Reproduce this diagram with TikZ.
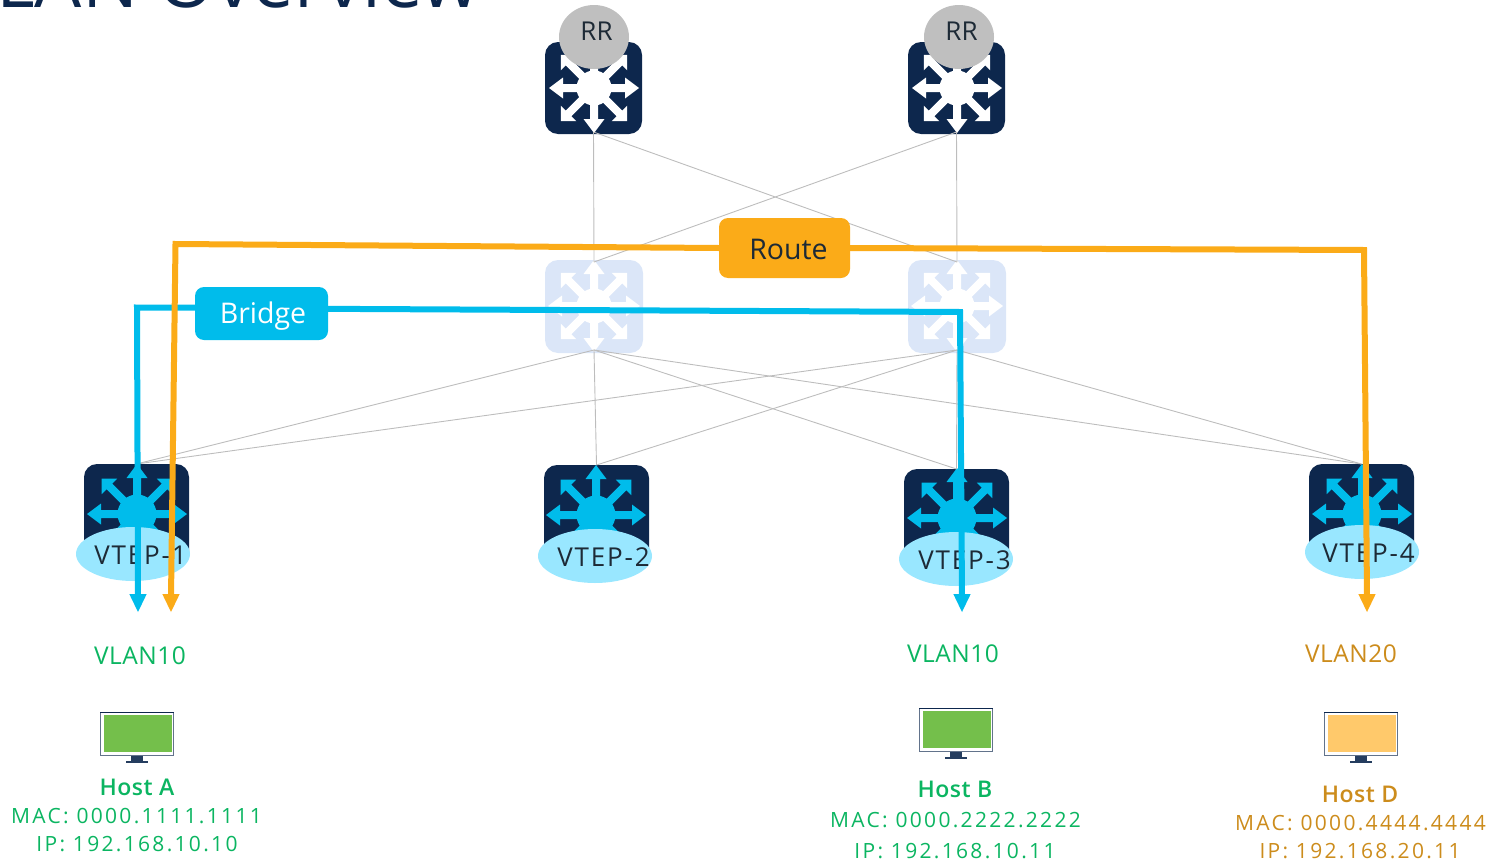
\documentclass[tikz,border=0pt]{standalone}
\usepackage{fontspec}
\usetikzlibrary{shapes.geometric,calc}
\setmainfont{Open Sans}
\newfontfamily\spaced[LetterSpace=11]{Open Sans}
\newfontfamily\slight[LetterSpace=2]{Open Sans}
\newfontfamily\vtepf[LetterSpace=7]{Open Sans}
\newfontfamily\boldf[LetterSpace=2]{Open Sans Semibold}
\definecolor{navy}{HTML}{0D274D}
\definecolor{sky}{HTML}{00BCEB}
\definecolor{amber}{HTML}{FBAB18}
\definecolor{oval}{HTML}{99E7FF}
\definecolor{pale}{HTML}{DBE6F8}
\definecolor{hgreen}{HTML}{0BB561}
\definecolor{hgold}{HTML}{CC8C1C}
\definecolor{wire}{HTML}{BDBDBD}
\definecolor{inkd}{HTML}{1D2A36}
\definecolor{scrg}{HTML}{74BF4B}
\definecolor{scry}{HTML}{FFC96B}
\tikzset{
 boxn/.style={rounded corners=13pt,minimum width=#1,inner sep=0pt,outer sep=0pt},
 wireline/.style={draw=wire,line width=0.9pt},
 flow/.style={line width=6pt,line join=miter},
 ovaln/.style={ellipse,fill=oval,minimum width=114pt,minimum height=54pt,inner sep=0pt},
 rrn/.style={ellipse,fill=black!25,minimum width=70pt,minimum height=64pt,inner sep=0pt},
 vtxt/.style={font=\vtepf\fontsize{26}{26}\selectfont,text=inkd,inner sep=0pt},
 rrtxt/.style={font=\fontsize{26}{26}\selectfont,text=inkd,inner sep=0pt},
 tagn/.style={rounded corners=9pt,minimum width=#1,inner sep=0pt,font=\fontsize{28.5}{28.5}\selectfont},
 vlan/.style={font=\slight\fontsize{24.5}{24.5}\selectfont,inner sep=0pt},
 hostt/.style={font=\spaced\fontsize{21}{21}\selectfont,inner sep=0pt},
 hostb/.style={font=\boldf\fontsize{23}{23}\selectfont,inner sep=0pt},
}
% #1 centre, #2 reach straight, #3 reach diagonal, #4 hub radius, #5 colour
\newcommand\spokes[5]{%
 \begin{scope}[shift={(#1)}]
  \fill[#5] (0,0) circle[radius=#4];
  \foreach \a in {0,90,180,270}{
   \begin{scope}[rotate=\a]
    \fill[#5] (0,-4) -- (#2-14,-4) -- (#2-14,-10.5) -- (#2,0) -- (#2-14,10.5) -- (#2-14,4) -- (0,4) -- cycle;
   \end{scope}}
  \foreach \a in {45,135,225,315}{
   \begin{scope}[rotate=\a]
    \fill[#5] (0,-4) -- (#3-11,-4) -- (#3-11,-11) -- (#3,0) -- (#3-11,11) -- (#3-11,4) -- (0,4) -- cycle;
   \end{scope}}
 \end{scope}}
\newcommand\monitor[3]{%
 \begin{scope}[shift={(#1)}]
  \node[inner sep=0pt,minimum width=74pt,minimum height=44pt,fill=white] (#3) at (37,22) {};
  \draw[line width=1.2pt,draw=navy!65] (0.6,0.6) rectangle (73.4,43.4);
  \draw[line width=1.2pt,draw=navy] (0,0.6) -- (74,0.6);
  \fill[#2] (4,3) rectangle (72,40);
  \fill[navy!90] (31,44) rectangle (43,48.5);
  \fill[navy!90] (26,48.5) rectangle (48,51);
 \end{scope}}
\begin{document}
\begin{tikzpicture}[x=1pt,y=-1pt]
\useasboundingbox (0,0) rectangle (1493,862);
\begin{scope}
\clip (0,0) rectangle (1493,862);
\node[anchor=base west,inner sep=0pt,text=navy,font=\fontsize{74.5}{74.5}\selectfont] (title) at (-4,7.5) {LAN Overview};
\end{scope}
% switches
\node[boxn=97pt,minimum height=92pt,fill=navy] (rr1) at (593.5,88) {};
\node[boxn=97pt,minimum height=92pt,fill=navy] (rr2) at (956.5,88) {};
\node[boxn=98pt,minimum height=93pt,fill=pale] (sp1) at (594,306.5) {};
\node[boxn=98pt,minimum height=93pt,fill=pale] (sp2) at (957,306.5) {};
\node[boxn=105pt,minimum height=102pt,fill=navy] (v1) at (136.5,515) {};
\node[boxn=105pt,minimum height=102pt,fill=navy] (v2) at (596.5,516) {};
\node[boxn=105pt,minimum height=102pt,fill=navy] (v3) at (956.5,520) {};
\node[boxn=105pt,minimum height=102pt,fill=navy] (v4) at (1361.5,515) {};
\spokes{594,88}{45}{47}{17.5}{white}
\spokes{957,88}{45}{47}{17.5}{white}
\spokes{594,306}{46}{47}{17.5}{white}
\spokes{957,306}{46}{47}{17.5}{white}
\spokes{137,514}{50}{50}{19.5}{sky}
\spokes{596,515}{50}{50}{19.5}{sky}
\spokes{957,518}{50}{50}{19.5}{sky}
\spokes{1362,514}{50}{50}{19.5}{sky}
% wires
\foreach \t in {sp1,sp2}{
 \draw[wireline] ([yshift=2pt]rr1.south) -- ([yshift=-2pt]\t.north);
 \draw[wireline] ([yshift=2pt]rr2.south) -- ([yshift=-2pt]\t.north);
 \foreach \l in {v1,v2,v3,v4}
  \draw[wireline] ([yshift=3pt]\t.south) -- (\l.north);
}
% RR circles
\node[rrn] (rc1) at (594,37) {};
\node[rrn] (rc2) at (959,37) {};
\node[rrtxt] (rt1) at (596.5,31) {RR};
\node[rrtxt] (rt2) at (961.5,31) {RR};
% VTEP ovals
\node[ovaln] (o1) at (133,554) {};
\node[ovaln] (o2) at (595,556) {};
\node[ovaln] (o3) at (956,559) {};
\node[ovaln] (o4) at (1362,552) {};
\node[vtxt] (t1) at (140.5,555) {VTEP-1};
\node[vtxt] (t2) at (603.5,557) {VTEP-2};
\node[vtxt] (t3) at (964.5,560) {VTEP-3};
\node[vtxt] (t4) at (1368.5,553) {VTEP-4};
% flows
\coordinate (bA) at (137,307.5);
\coordinate (bB) at (138,612);
\coordinate (bC) at (960,312);
\coordinate (bD) at (962,612);
\coordinate (oA) at (175.5,244);
\coordinate (oB) at (171,612);
\coordinate (oC) at (1364,250);
\coordinate (oD) at (1367,612);
% labels
\node[tagn=133pt,fill=sky,minimum height=53pt,text=white] (bridge) at (261.5,313.5) {\hspace{3pt}\raisebox{-9.5pt}[0pt][0pt]{Bridge}};
\node[tagn=131pt,fill=amber,minimum height=60pt,text=inkd] (route) at (784.5,248) {\hspace{8pt}\raisebox{-11pt}[0pt][0pt]{Route}};
\draw[flow,sky] (bridge.175) -- (bA) -- ($(bB)+(0,-14)$);
\draw[flow,sky] (bridge.4) -- (bC) -- ($(bD)+(0,-14)$);
\draw[flow,amber] (route.west) -- (oA) -- ($(oB)+(0,-14)$);
\draw[flow,amber] (route.east) -- (oC) -- ($(oD)+(0,-14)$);
\foreach \p/\c in {bB/sky,bD/sky,oB/amber,oD/amber}
 \fill[\c] (\p) -- ++(-8.7,-18) -- ++(17.4,0) -- cycle;
% VLAN
\node[vlan,text=hgreen] (vl1) at (140,656) {VLAN10};
\node[vlan,text=hgreen] (vl3) at (953,654) {VLAN10};
\node[vlan,text=hgold] (vl4) at (1351,654) {VLAN20};
% hosts
\monitor{100,712}{scrg}{ma}
\monitor{919,708}{scrg}{mb}
\monitor{1324,712}{scry}{md}
\node[hostb,text=hgreen] (ha) at (137,787) {Host A};
\node[hostt,text=hgreen] (ha1) at (136.5,816) {MAC: 0000.1111.1111};
\node[hostt,text=hgreen] (ha2) at (137,844) {IP: 192.168.10.10};
\node[hostb,text=hgreen] (hb) at (955,789) {Host B};
\node[hostt,text=hgreen] (hb1) at (955.5,820) {MAC: 0000.2222.2222};
\node[hostt,text=hgreen] (hb2) at (955,851) {IP: 192.168.10.11};
\node[hostb,text=hgold] (hd) at (1360,794) {Host D};
\node[hostt,text=hgold] (hd1) at (1360.5,823) {MAC: 0000.4444.4444};
\node[hostt,text=hgold] (hd2) at (1360,851) {IP: 192.168.20.11};
\end{tikzpicture}
\end{document}
